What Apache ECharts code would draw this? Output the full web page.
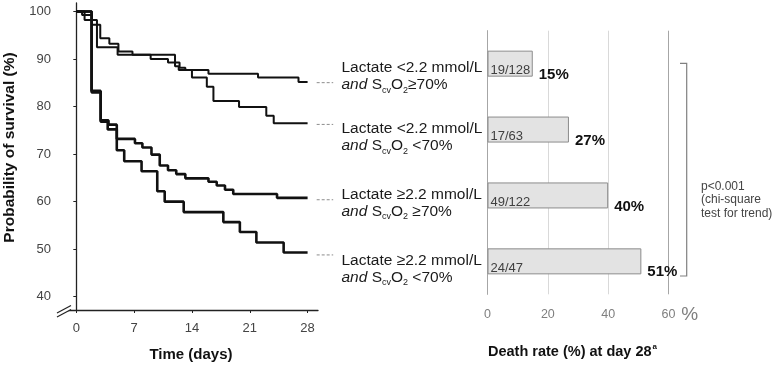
<!DOCTYPE html>
<html>
<head>
<meta charset="utf-8">
<script src="https://cdn.jsdelivr.net/npm/echarts@6/dist/echarts.min.js"></script>
<style>
body { margin: 0; background: #fff; }
#main { width: 778px; height: 367px; }
</style>
</head>
<body>
<div id="main"></div>
<script>
//生存曲线 [天, 生存率%]
var kmLowHigh = [[0, 100], [0.7, 99.3], [1.9, 97.2], [2.9, 94.4], [4, 93.2], [5.1, 91.6], [6.8, 90.9], [9, 90.0], [11.1, 89.3], [12.5, 88.2], [13.2, 87.7], [16, 86.9], [22, 86.1], [26.9, 85.2], [28, 85.2]];
var kmLowLow = [[0, 100], [1, 98.2], [2.5, 92.5], [5, 90.9], [11.95, 88.5], [12.4, 87.7], [14, 86.1], [15.8, 84.2], [16.6, 81.2], [19.7, 79.9], [23, 78.1], [23.9, 76.5], [28, 76.5]];
var kmHighHigh = [[0, 100], [1.85, 83.3], [2.95, 77.1], [3.9, 76.2], [4.9, 73.2], [7.1, 72.3], [8, 71.4], [9.1, 69.9], [10.1, 67.6], [11.1, 66.6], [12.1, 65.8], [13.2, 64.9], [16, 64.2], [17, 63.4], [18, 62.5], [19, 61.6], [24.3, 60.8], [28, 60.8]];
var kmHighLow = [[0, 100], [1.85, 83.0], [2.95, 76.8], [3.8, 75.2], [4.9, 70.8], [5.8, 68.5], [7.9, 66.4], [9.8, 62.2], [10.7, 60.0], [13, 57.8], [17.8, 55.7], [19.8, 53.6], [21.8, 51.4], [25.1, 49.3], [28, 49.3]];

var dayTicks = [0, 7, 14, 21, 28];		//横坐标刻度
var survTicks = [40, 50, 60, 70, 80, 90, 100];	//纵坐标刻度

//分组及28天死亡率
var groups = [
	'Lactate <2.2 mmol/L\n{i|and} S{sub|cv}O{sub|2}≥70%',
	'Lactate <2.2 mmol/L\n{i|and} S{sub|cv}O{sub|2} <70%',
	'Lactate ≥2.2 mmol/L\n{i|and} S{sub|cv}O{sub|2} ≥70%',
	'Lactate ≥2.2 mmol/L\n{i|and} S{sub|cv}O{sub|2} <70%'
];
var deaths = ['19/128', '17/63', '49/122', '24/47'];
var deathRate = [15, 27, 40, 51];

var font = "'Liberation Sans', Arial, sans-serif";
var curves = [kmLowHigh, kmLowLow, kmHighHigh, kmHighLow];
var widths = [2, 2, 2.6, 2.6];

var series = [];
for (var i = 0; i < curves.length; i++) {
	series.push({
		type: 'line',
		xAxisIndex: 0,
		yAxisIndex: 0,
		step: 'end',
		symbol: 'none',
		data: curves[i],
		lineStyle: { color: '#111', width: widths[i] },
		z: 3
	});
	//曲线末端的虚线（画在稍宽的隐藏坐标系里）
	var last = curves[i][curves[i].length - 1][1];
	series.push({
		type: 'line',
		xAxisIndex: 2,
		yAxisIndex: 2,
		symbol: 'none',
		data: [[29.1, last], [31.1, last]],
		lineStyle: { color: '#8c8c8c', width: 1, type: [3, 2] }
	});
}

//柱状图
series.push({
	type: 'bar',
	xAxisIndex: 1,
	yAxisIndex: 1,
	data: deathRate,
	barWidth: 26,
	barGap: '-100%',
	itemStyle: { color: '#e3e3e3', borderColor: '#8c8c8c', borderWidth: 1 },
	label: {
		show: true,
		position: 'insideLeft',
		distance: 3,
		offset: [0, 7],
		formatter: function (p) { return deaths[p.dataIndex]; },
		color: '#404040',
		fontSize: 13,
		fontFamily: font
	}
});
series.push({
	type: 'bar',
	xAxisIndex: 1,
	yAxisIndex: 1,
	data: deathRate,
	barWidth: 26,
	barGap: '-100%',
	silent: true,
	itemStyle: { color: 'transparent' },
	label: {
		show: true,
		position: 'right',
		distance: 6,
		offset: [0, 11],
		formatter: '{c}%',
		color: '#111',
		fontSize: 15,
		fontWeight: 'bold',
		fontFamily: font
	}
});

//分组标签样式
var richText = {
	i: { fontStyle: 'italic', fontSize: 15.5, color: '#1a1a1a', fontFamily: font },
	sub: { fontSize: 9, color: '#1a1a1a', fontFamily: font, padding: [11, 0, 0, 0] }
};
//第一组标签位置稍低
var groupItems = groups.map(function (g, idx) {
	if (idx != 0) return g;
	return {
		value: g,
		textStyle: {
			align: 'left', color: '#1a1a1a', fontSize: 15.5, lineHeight: 17,
			fontFamily: font, padding: [26, 0, 0, 0], rich: richText
		}
	};
});

var chart = echarts.init(document.getElementById('main'));
var option = {
	animation: false,
	title: {
		text: '{t|Death rate (%) at day 28}{sup|a}',
		left: 488,
		top: 343,
		padding: 0,
		textStyle: {
			rich: {
				t: { fontSize: 14.5, fontWeight: 'bold', color: '#111', fontFamily: font },
				sup: { fontSize: 8, fontWeight: 'bold', color: '#111', fontFamily: font, padding: [0, 0, 9, 1] }
			}
		}
	},
	grid: [
		{ left: 64, top: 3, width: 254, height: 310 },
		{ left: 487.5, top: 30.7, width: 181, height: 263.6 },
		{ left: 64, top: 3, width: 270, height: 310 }
	],
	xAxis: [{
		type: 'value',
		gridIndex: 0,
		min: -1.49,
		max: 29.26,
		axisLine: { show: true, lineStyle: { color: '#222', width: 1.3 } },
		axisTick: { show: true, customValues: dayTicks, length: 3, lineStyle: { color: '#222' } },
		axisLabel: { customValues: dayTicks, margin: 12, color: '#444', fontSize: 13, fontFamily: font },
		splitLine: { show: false },
		name: 'Time (days)',
		nameLocation: 'middle',
		nameGap: 37,
		nameTextStyle: { fontSize: 15, fontWeight: 'bold', color: '#111', fontFamily: font }
	}, {
		type: 'value',
		gridIndex: 1,
		min: 0,
		max: 60,
		interval: 20,
		axisLine: { show: false },
		axisTick: { show: false },
		axisLabel: { margin: 14, color: '#7f7f7f', fontSize: 12.5, fontFamily: font },
		splitLine: { show: true, lineStyle: { color: ['#a6a6a6', '#d9d9d9', '#d9d9d9', '#a6a6a6'] } },
		name: '%',
		nameLocation: 'end',
		nameGap: 21,
		nameTextStyle: { fontSize: 19, color: '#7f7f7f', fontFamily: font, align: 'right', verticalAlign: 'top', padding: [11, 0, 0, 0] }
	}, {
		type: 'value',
		gridIndex: 2,
		min: -1.49,
		max: 31.197,
		show: false
	}],
	yAxis: [{
		type: 'value',
		gridIndex: 0,
		min: 37.2,
		max: 101.8,
		axisLine: { show: true, lineStyle: { color: '#222', width: 1.3 } },
		axisTick: { show: true, customValues: survTicks, length: 3, lineStyle: { color: '#222' } },
		axisLabel: { customValues: survTicks, margin: 13, color: '#444', fontSize: 13, fontFamily: font },
		splitLine: { show: false },
		name: 'Probability of survival (%)',
		nameLocation: 'middle',
		nameGap: 46,
		nameTextStyle: { fontSize: 15.5, fontWeight: 'bold', color: '#111', fontFamily: font, padding: [0, 0, 0, 18] }
	}, {
		type: 'category',
		gridIndex: 1,
		inverse: true,
		data: groupItems,
		axisLine: { show: true, lineStyle: { color: '#a6a6a6' } },
		axisTick: { show: false },
		axisLabel: {
			margin: 146,
			align: 'left',
			color: '#1a1a1a',
			fontSize: 15.5,
			lineHeight: 17,
			fontFamily: font,
			padding: [15, 0, 0, 0],
			rich: richText
		}
	}, {
		type: 'value',
		gridIndex: 2,
		min: 37.2,
		max: 101.8,
		show: false
	}],
	graphic: [
		//坐标轴断裂符号
		{
			type: 'polygon',
			shape: { points: [[57, 313], [71, 305.5], [71, 309.5], [57, 317]] },
			style: { fill: '#fff' },
			z: 100
		},
		{ type: 'line', shape: { x1: 57, y1: 313, x2: 71, y2: 305.5 }, style: { stroke: '#222', lineWidth: 1.2 }, z: 101 },
		{ type: 'line', shape: { x1: 57, y1: 317, x2: 71, y2: 309.5 }, style: { stroke: '#222', lineWidth: 1.2 }, z: 101 },
		//右侧括号
		{
			type: 'polyline',
			shape: { points: [[680, 63.3], [686.7, 63.3], [686.7, 276], [680, 276]] },
			style: { stroke: '#808080', lineWidth: 1.2, fill: null }
		},
		{
			type: 'text',
			x: 701,
			y: 200,
			style: {
				text: 'p<0.001\n(chi-square\ntest for trend)',
				fontSize: 12,
				fontFamily: font,
				lineHeight: 13.3,
				fill: '#444',
				verticalAlign: 'middle'
			}
		}
	],
	series: series
};
chart.setOption(option);
</script>
</body>
</html>
